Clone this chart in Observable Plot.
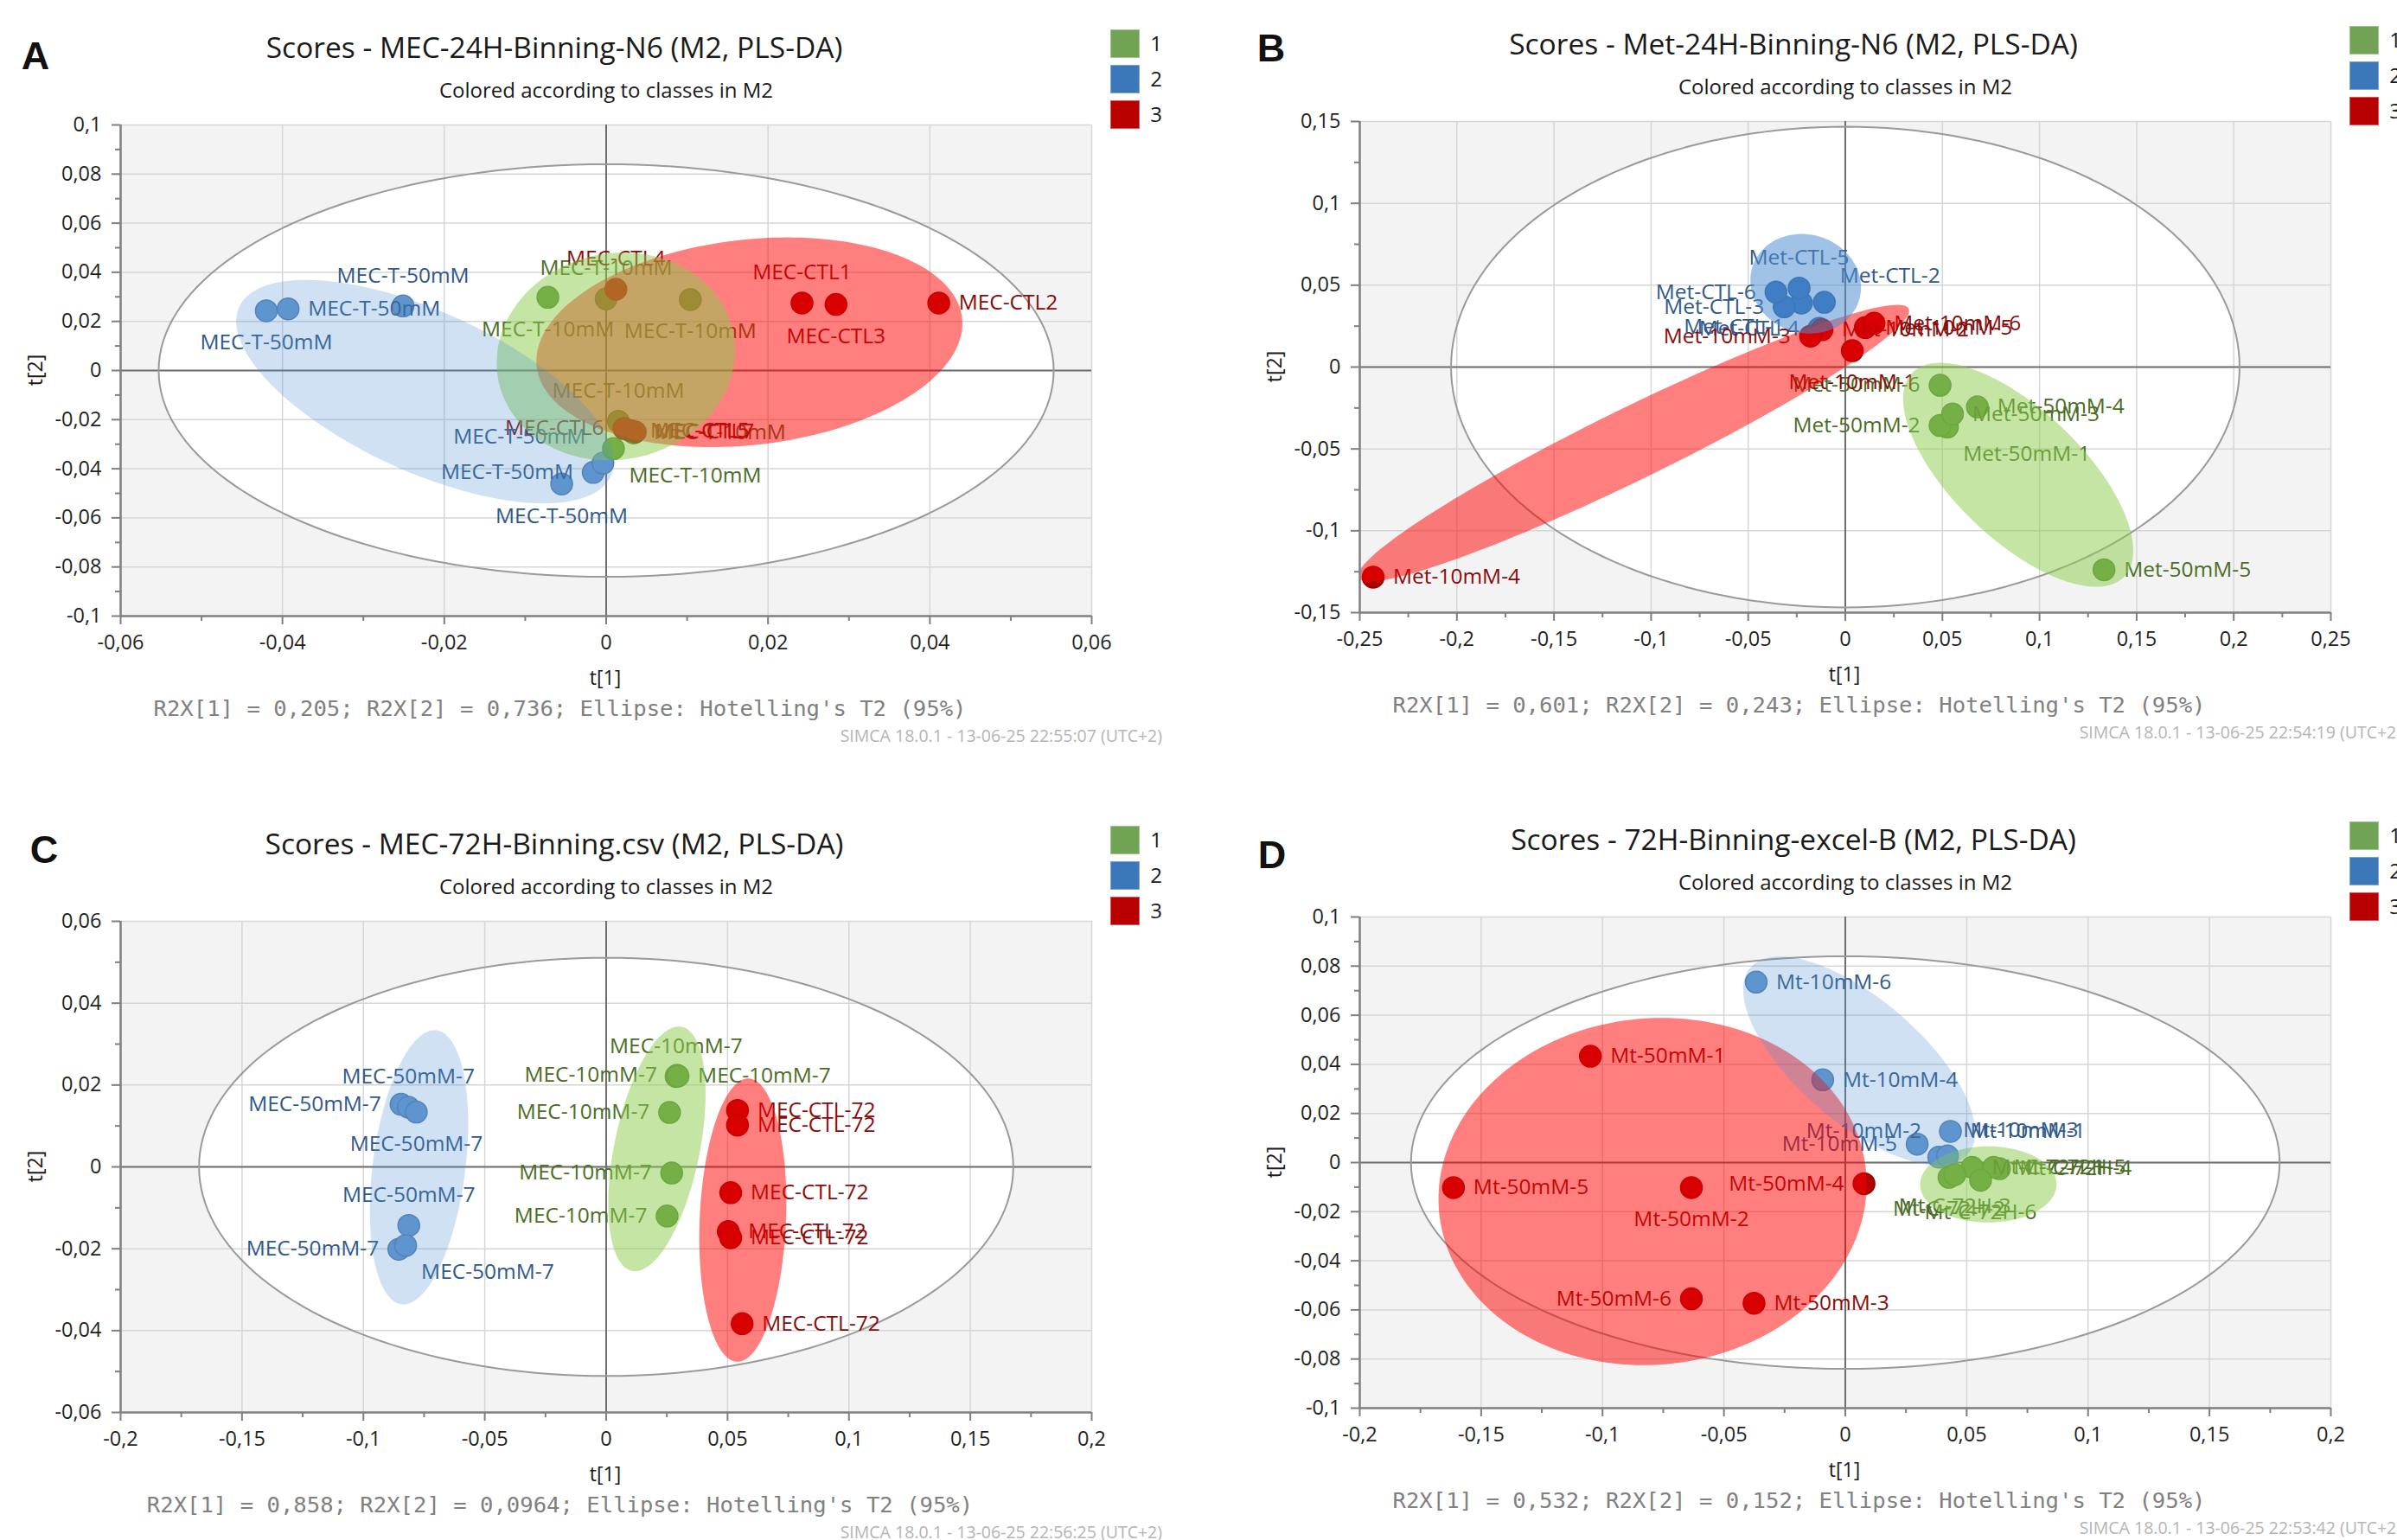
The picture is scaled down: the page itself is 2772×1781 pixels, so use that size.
<!DOCTYPE html>
<html><head><meta charset="utf-8">
<script src="https://cdn.jsdelivr.net/npm/d3@7"></script>
<script src="https://cdn.jsdelivr.net/npm/@observablehq/plot@0.6"></script>
<style>
html,body{margin:0;padding:0;background:#fff;}
#root{position:relative;width:2772px;height:1781px;overflow:hidden;background:#fff;font-family:'Open Sans',sans-serif;color:#1f1f1f;}
.t{position:absolute;white-space:nowrap;line-height:1;transform:translate(-50%,-50%);}
.sq{position:absolute;width:34px;height:33px;box-shadow:inset 0 0 0 1px rgba(255,255,255,0.35);}
</style></head><body><div id="root"></div>
<script>
// ================= Panel A =================
const A_title = "Scores - MEC-24H-Binning-N6 (M2, PLS-DA)";
const A_r2x = ["0,205", "0,736"];
const A_time = "13-06-25 22:55:07";
const A_xTicks = [-0.06, -0.04, -0.02, 0, 0.02, 0.04, 0.06];
const A_yTicks = [-0.1, -0.08, -0.06, -0.04, -0.02, 0, 0.02, 0.04, 0.06, 0.08, 0.1];
const A_names = ["MEC-T-50mM","MEC-T-50mM","MEC-T-50mM","MEC-T-50mM","MEC-T-50mM","MEC-T-50mM",
  "MEC-T-10mM","MEC-T-10mM","MEC-T-10mM","MEC-T-10mM","MEC-T-10mM","MEC-T-10mM",
  "MEC-CTL1","MEC-CTL2","MEC-CTL3","MEC-CTL4","MEC-CTL5","MEC-CTL6","MEC-CTL7"];
const A_class = [2,2,2,2,2,2, 1,1,1,1,1,1, 3,3,3,3,3,3,3];
const A_t1 = [-0.0420,-0.0393,-0.0251,-0.0055,-0.0016,-0.0004, -0.0072,0.0000,0.0104,0.0015,0.0034,0.0009, 0.0242,0.0411,0.0284,0.0012,0.0030,0.0022,0.0036];
const A_t2 = [0.0243,0.0251,0.0263,-0.0462,-0.0415,-0.0377, 0.0298,0.0292,0.0289,-0.0207,-0.0254,-0.0318, 0.0275,0.0275,0.0269,0.0331,-0.0245,-0.0236,-0.0250];
const A_place = ["b","r","t","b","l","tl", "b","t","b","t","r","br", "t","r","b","t","r","l","r"];
const A_ellClass = [3, 1, 2];
const A_ellCx = [0.0177, 0.0012, -0.0224];
const A_ellCy = [0.0115, 0.0057, -0.0086];
const A_ellUx = [0.0047, 0.0009, -0.0147];
const A_ellUy = [0.0427, 0.0423, 0.0455];
const A_ellH  = [0.0259, 0.0147, 0.0181];
const A_hotelling = [0.0553, 0.084];

// ================= Panel B =================
const B_title = "Scores - Met-24H-Binning-N6 (M2, PLS-DA)";
const B_r2x = ["0,601", "0,243"];
const B_time = "13-06-25 22:54:19";
const B_xTicks = [-0.25, -0.2, -0.15, -0.1, -0.05, 0, 0.05, 0.1, 0.15, 0.2, 0.25];
const B_yTicks = [-0.15, -0.1, -0.05, 0, 0.05, 0.1, 0.15];
const B_names = ["Met-CTL-1","Met-CTL-2","Met-CTL-3","Met-CTL-4","Met-CTL-5","Met-CTL-6",
  "Met-10mM-1","Met-10mM-2","Met-10mM-3","Met-10mM-4","Met-10mM-5","Met-10mM-6",
  "Met-50mM-1","Met-50mM-2","Met-50mM-3","Met-50mM-4","Met-50mM-5","Met-50mM-6"];
const B_class = [2,2,2,2,2,2, 3,3,3,3,3,3, 1,1,1,1,1,1];
const B_t1 = [-0.0226,-0.0108,-0.0315,-0.0135,-0.0238,-0.0357, 0.0036,-0.0120,-0.0179,-0.2431,0.0103,0.0148, 0.0526,0.0488,0.0552,0.0680,0.1332,0.0488];
const B_t2 = [0.0391,0.0396,0.0368,0.0236,0.0482,0.0458, 0.0100,0.0228,0.0189,-0.1283,0.0241,0.0268, -0.0366,-0.0357,-0.0287,-0.0243,-0.1238,-0.0111];
const B_place = ["bl","tr","l","l","t","l", "b","r","l","r","r","r", "br","l","r","r","r","l"];
const B_ellClass = [3, 1, 2];
const B_ellCx = [-0.1090, 0.0890, -0.0204];
const B_ellCy = [-0.0465, -0.0658, 0.0509];
const B_ellUx = [0.1358, -0.0401, -0.0021];
const B_ellUy = [0.0845, 0.0684, 0.0304];
const B_ellH  = [0.0410, 0.0436, 0.0284];
const B_hotelling = [0.203, 0.1468];

// ================= Panel C =================
const C_title = "Scores - MEC-72H-Binning.csv (M2, PLS-DA)";
const C_r2x = ["0,858", "0,0964"];
const C_time = "13-06-25 22:56:25";
const C_xTicks = [-0.2, -0.15, -0.1, -0.05, 0, 0.05, 0.1, 0.15, 0.2];
const C_yTicks = [-0.06, -0.04, -0.02, 0, 0.02, 0.04, 0.06];
const C_names = ["MEC-50mM-7","MEC-50mM-7","MEC-50mM-7","MEC-50mM-7","MEC-50mM-7","MEC-50mM-7",
  "MEC-10mM-7","MEC-10mM-7","MEC-10mM-7","MEC-10mM-7","MEC-10mM-7","MEC-10mM-7",
  "MEC-CTL-72","MEC-CTL-72","MEC-CTL-72","MEC-CTL-72","MEC-CTL-72","MEC-CTL-72"];
const C_class = [2,2,2,2,2,2, 1,1,1,1,1,1, 3,3,3,3,3,3];
const C_t1 = [-0.0845,-0.0815,-0.0782,-0.0813,-0.0854,-0.0826, 0.0288,0.0292,0.0296,0.0261,0.0270,0.0251, 0.0541,0.0541,0.0513,0.0503,0.0513,0.0560];
const C_t2 = [0.0153,0.0146,0.0134,-0.0143,-0.0201,-0.0192, 0.0221,0.0224,0.0222,0.0133,-0.0015,-0.0120, 0.0138,0.0102,-0.0063,-0.0158,-0.0173,-0.0383];
const C_place = ["l","t","b","t","l","br", "t","l","r","l","l","l", "r","r","r","r","r","r"];
const C_ellClass = [3, 1, 2];
const C_ellCx = [0.0563, 0.0209, -0.0771];
const C_ellCy = [-0.0130, 0.0044, -0.0001];
const C_ellUx = [0.0022, 0.0090, 0.0064];
const C_ellUy = [0.0346, 0.0299, 0.0335];
const C_ellH  = [0.0178, 0.0179, 0.0192];
const C_hotelling = [0.1677, 0.0511];

// ================= Panel D =================
const D_title = "Scores - 72H-Binning-excel-B (M2, PLS-DA)";
const D_r2x = ["0,532", "0,152"];
const D_time = "13-06-25 22:53:42";
const D_xTicks = [-0.2, -0.15, -0.1, -0.05, 0, 0.05, 0.1, 0.15, 0.2];
const D_yTicks = [-0.1, -0.08, -0.06, -0.04, -0.02, 0, 0.02, 0.04, 0.06, 0.08, 0.1];
const D_names = ["Mt-50mM-1","Mt-50mM-2","Mt-50mM-3","Mt-50mM-4","Mt-50mM-5","Mt-50mM-6",
  "Mt-10mM-1","Mt-10mM-2","Mt-10mM-3","Mt-10mM-4","Mt-10mM-5","Mt-10mM-6",
  "Mt-C-72H-1","Mt-C-72H-2","Mt-C-72H-3","Mt-C-72H-4","Mt-C-72H-5","Mt-C-72H-6"];
const D_class = [3,3,3,3,3,3, 2,2,2,2,2,2, 1,1,1,1,1,1];
const D_t1 = [-0.1050,-0.0634,-0.0376,0.0077,-0.1614,-0.0634, 0.0433,0.0385,0.0421,-0.0093,0.0296,-0.0367, 0.0522,0.0427,0.0451,0.0635,0.0611,0.0557];
const D_t2 = [0.0433,-0.0102,-0.0573,-0.0086,-0.0102,-0.0555, 0.0127,0.0022,0.0027,0.0337,0.0075,0.0735, -0.0019,-0.0060,-0.0049,-0.0025,-0.0019,-0.0072];
const D_place = ["r","b","r","l","r","l", "r","tl","tr","r","l","r", "r","b","b","r","r","b"];
const D_ellClass = [3, 1, 2];
const D_ellCx = [-0.0794, 0.0589, 0.0057];
const D_ellCy = [-0.0118, -0.0089, 0.0414];
const D_ellUx = [0.0038, 0.0, -0.0326];
const D_ellUy = [0.0707, 0.0155, 0.0425];
const D_ellH  = [0.0881, 0.0281, 0.0349];
const D_hotelling = [0.1789, 0.084];

// ================= styling =================
const LEGEND_COLOR = {1: "#70a454", 2: "#3b78b9", 3: "#b80000"};
const LABEL_COLOR = {1: "#4b6d24", 2: "#30598a", 3: "#8a0a0a"};
const ELL_COLOR = {1: "#8bcb4b", 2: "#4f8fd0", 3: "#ff0000"};
const OFF = {r:[23,0,"start"], l:[-23,0,"end"], t:[0,-35,"middle"], b:[0,37,"middle"],
             tr:[18,-30,"start"], tl:[-20,-30,"end"], br:[18,31,"start"], bl:[-20,28,"end"]};
const PLOT_W = 1123, PLOT_H = 568, ML = 140, MR = 30, MT = 20, MB = 60;

const panels = [
  {letter:"A", px:139, py:144, lx:41, ly:64, title:A_title, r2x:A_r2x, time:A_time, xt:A_xTicks, yt:A_yTicks,
   names:A_names, cls:A_class, t1:A_t1, t2:A_t2, place:A_place,
   ell:[A_ellClass,A_ellCx,A_ellCy,A_ellUx,A_ellUy,A_ellH], hot:A_hotelling, blueOp:0.27, bluePt:"#6597d0"},
  {letter:"B", px:1572, py:140, lx:1470, ly:55, title:B_title, r2x:B_r2x, time:B_time, xt:B_xTicks, yt:B_yTicks,
   names:B_names, cls:B_class, t1:B_t1, t2:B_t2, place:B_place,
   ell:[B_ellClass,B_ellCx,B_ellCy,B_ellUx,B_ellUy,B_ellH], hot:B_hotelling, blueOp:0.54, bluePt:"#2c6cb6"},
  {letter:"C", px:139, py:1065, lx:51, ly:982, title:C_title, r2x:C_r2x, time:C_time, xt:C_xTicks, yt:C_yTicks,
   names:C_names, cls:C_class, t1:C_t1, t2:C_t2, place:C_place,
   ell:[C_ellClass,C_ellCx,C_ellCy,C_ellUx,C_ellUy,C_ellH], hot:C_hotelling, blueOp:0.27, bluePt:"#6597d0"},
  {letter:"D", px:1572, py:1060, lx:1471, ly:988, title:D_title, r2x:D_r2x, time:D_time, xt:D_xTicks, yt:D_yTicks,
   names:D_names, cls:D_class, t1:D_t1, t2:D_t2, place:D_place,
   ell:[D_ellClass,D_ellCx,D_ellCy,D_ellUx,D_ellUy,D_ellH], hot:D_hotelling, blueOp:0.27, bluePt:"#6597d0"}
];

const fmt = d => String(+d.toFixed(4)).replace(".", ",");
function ellipsePath(cx, cy, ux, uy, h) {
  const out = [];
  for (let i = 0; i < 180; i++) {
    const t = 2 * Math.PI * i / 180;
    out.push({x: cx + ux * Math.cos(t) + h * Math.sin(t), y: cy + uy * Math.cos(t)});
  }
  return out;
}
const root = document.getElementById("root");
function addText(txt, x, y, css, anchor) {
  const d = document.createElement("div");
  d.className = "t";
  d.textContent = txt;
  d.style.left = x + "px"; d.style.top = y + "px";
  if (anchor === "end") d.style.transform = "translate(-100%,-50%)";
  if (anchor === "rot") d.style.transform = "translate(-50%,-50%) rotate(-90deg)";
  d.style.cssText += css;
  root.appendChild(d);
}

for (const p of panels) {
  const pts = p.names.map((n, i) => ({name: n, cls: p.cls[i], t1: p.t1[i], t2: p.t2[i], place: p.place[i]}));
  const ptFill = {1: "#5d9541", 2: p.bluePt, 3: "#b00000"};
  const ptStroke = {1: "#4d8035", 2: d3.color(p.bluePt).darker(0.5).formatHex(), 3: "#940000"};
  const hot = ellipsePath(0, 0, 0, p.hot[1], p.hot[0]);
  const [ec, ecx, ecy, eux, euy, eh] = p.ell;
  const xMinor = d3.pairs(p.xt).map(([a, b]) => (a + b) / 2);
  const yMinor = d3.pairs(p.yt).map(([a, b]) => (a + b) / 2);
  const xmin = p.xt[0], xmax = p.xt[p.xt.length - 1], ymin = p.yt[0], ymax = p.yt[p.yt.length - 1];

  const marks = [
    Plot.frame({fill: "#f3f3f3", stroke: "none"}),
    Plot.line(hot, {x: "x", y: "y", fill: "#ffffff", stroke: "none", curve: "linear-closed"}),
    Plot.gridX(p.xt, {stroke: "#d6d6d6", strokeOpacity: 1, strokeWidth: 1.5}),
    Plot.gridY(p.yt, {stroke: "#d6d6d6", strokeOpacity: 1, strokeWidth: 1.5}),
    Plot.ruleX([0], {stroke: "#6e6e6e", strokeWidth: 2}),
    Plot.ruleY([0], {stroke: "#6e6e6e", strokeWidth: 2}),
    Plot.line(hot, {x: "x", y: "y", stroke: "#9a9a9a", strokeWidth: 2, curve: "linear-closed"}),
    Plot.dot(pts, {x: "t1", y: "t2", r: 12.5, fill: d => ptFill[d.cls], stroke: d => ptStroke[d.cls], strokeWidth: 1.5}),
    ...Object.keys(OFF).map(k => Plot.text(pts.filter(d => d.place === k), {
      x: "t1", y: "t2", text: "name", dx: OFF[k][0], dy: OFF[k][1], textAnchor: OFF[k][2],
      fill: d => LABEL_COLOR[d.cls], fontSize: 24.5
    })),
    ...ec.map((c, i) => Plot.line(ellipsePath(ecx[i], ecy[i], eux[i], euy[i], eh[i]), {
      x: "x", y: "y", fill: ELL_COLOR[c], fillOpacity: c === 2 ? p.blueOp : 0.5,
      stroke: "none", curve: "linear-closed", clip: true
    })),
    Plot.axisY(yMinor, {tickSize: 6, tickFormat: () => "", stroke: "#7f7f7f", strokeWidth: 2, label: null}),
    Plot.axisX(xMinor, {tickSize: 6, tickFormat: () => "", stroke: "#7f7f7f", strokeWidth: 2, label: null}),
    Plot.axisY(p.yt, {tickSize: 10, tickPadding: 12, tickFormat: fmt, stroke: "#7f7f7f", strokeWidth: 2, fill: "#1f1f1f", fontSize: 23.5, label: null}),
    Plot.axisX(p.xt, {tickSize: 10, tickPadding: 12, tickFormat: fmt, stroke: "#7f7f7f", strokeWidth: 2, fill: "#1f1f1f", fontSize: 23.5, label: null}),
    Plot.ruleX([xmin], {stroke: "#808080", strokeWidth: 2.5}),
    Plot.ruleY([ymin], {stroke: "#808080", strokeWidth: 2.5})
  ];

  const svg = Plot.plot({
    width: ML + PLOT_W + MR, height: MT + PLOT_H + MB,
    marginLeft: ML, marginRight: MR, marginTop: MT, marginBottom: MB,
    x: {domain: [xmin, xmax], label: null},
    y: {domain: [ymin, ymax], label: null},
    color: {type: "identity"},
    style: {fontFamily: "'Open Sans', sans-serif", fontSize: "23px", color: "#1f1f1f", background: "transparent", overflow: "visible"},
    marks
  });
  const wrap = document.createElement("div");
  wrap.style.cssText = `position:absolute;left:${p.px - ML}px;top:${p.py - MT}px;`;
  wrap.appendChild(svg);
  root.appendChild(wrap);

  // texts around the plot
  addText(p.letter, p.lx, p.ly, "font-family:'Liberation Sans',Arial,sans-serif;font-weight:bold;font-size:45px;color:#111;");
  addText(p.title, p.px + 502, p.py - 89, "font-size:33.5px;color:#1a1a1a;");
  addText("Colored according to classes in M2", p.px + 562, p.py - 40, "font-size:24px;color:#1a1a1a;");
  addText("t[1]", p.px + 561, p.py + 639, "font-size:23px;color:#1a1a1a;");
  addText("t[2]", p.px - 99, p.py + PLOT_H / 2, "font-size:23px;color:#1a1a1a;", "rot");
  addText(`R2X[1] = ${p.r2x[0]}; R2X[2] = ${p.r2x[1]}; Ellipse: Hotelling's T2 (95%)`, p.px + 508.5, p.py + 676,
    "font-family:'DejaVu Sans Mono',monospace;font-size:25.6px;color:#808080;");
  addText(`SIMCA 18.0.1 - ${p.time} (UTC+2)`, p.px + 1205, p.py + 707, "font-size:19.5px;color:#b4b4b4;", "end");
  // legend
  [1, 2, 3].forEach((c, i) => {
    const s = document.createElement("div");
    s.className = "sq";
    s.style.left = (p.px + 1145) + "px";
    s.style.top = (p.py - 110 + i * 41) + "px";
    s.style.background = LEGEND_COLOR[c];
    root.appendChild(s);
    addText(String(c), p.px + 1198, p.py - 110 + i * 41 + 16, "font-size:24px;color:#1a1a1a;");
  });
}
</script></body></html>
